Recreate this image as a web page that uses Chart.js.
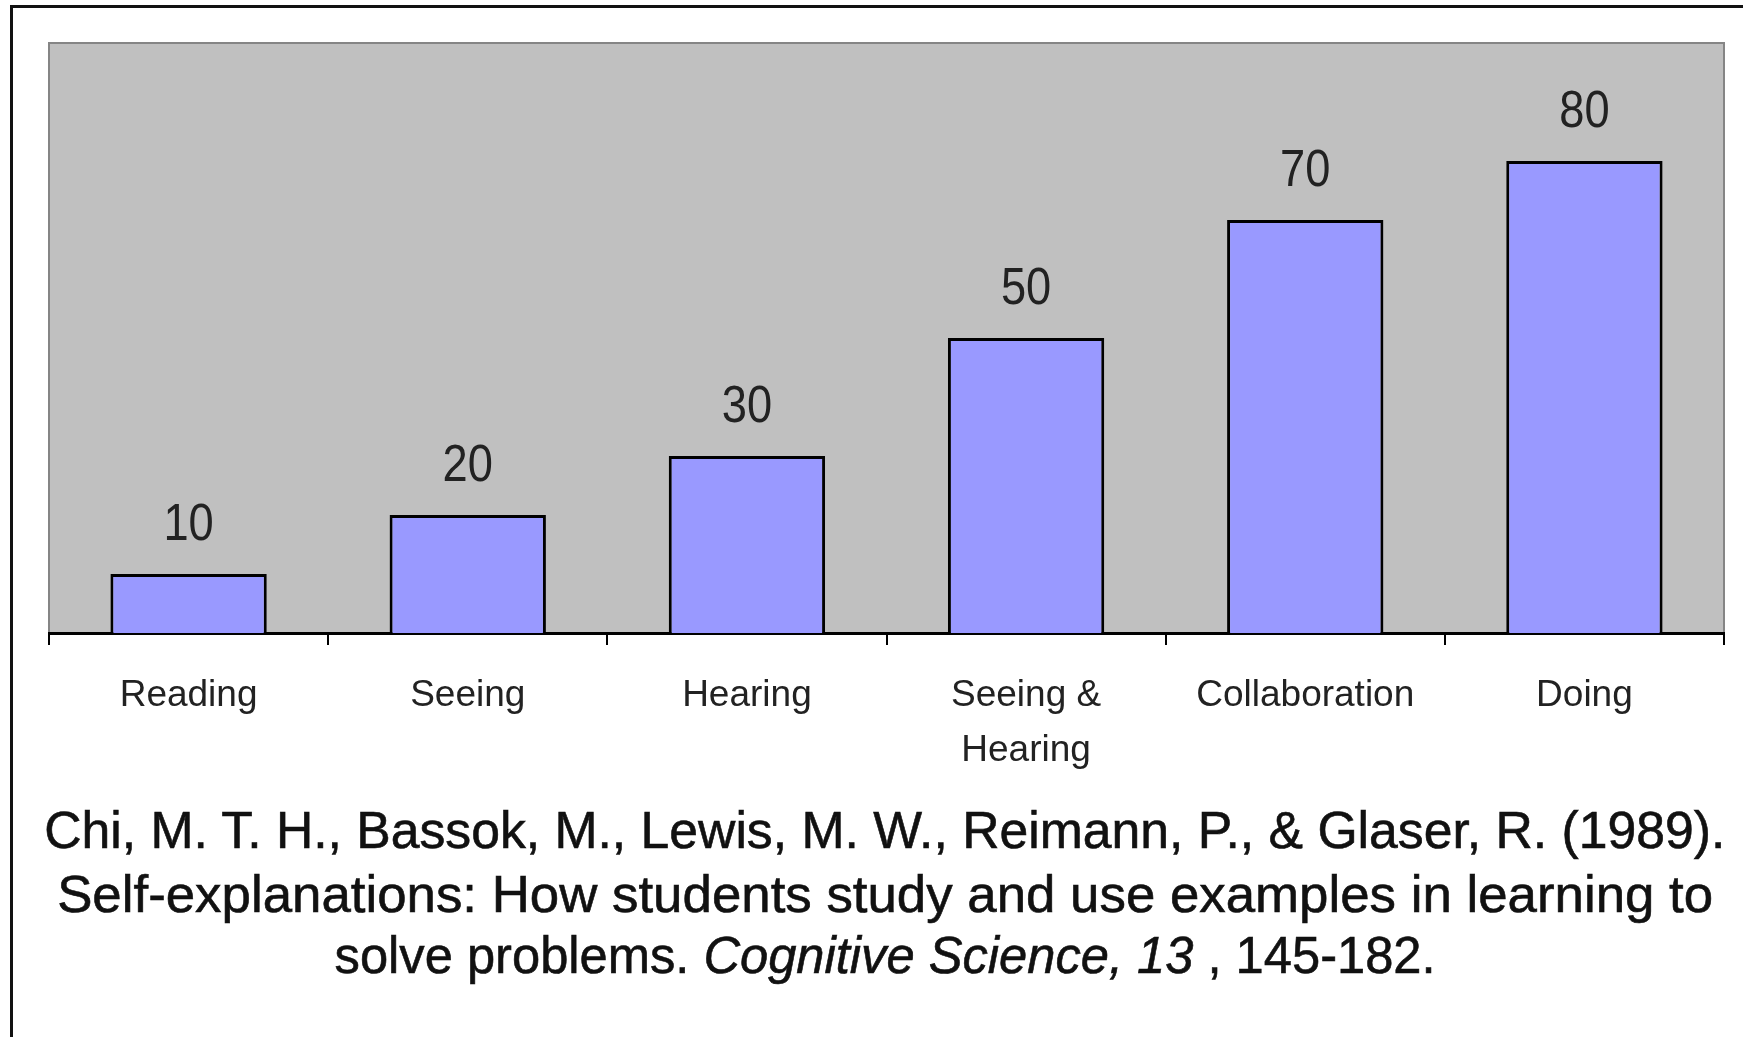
<!DOCTYPE html>
<html>
<head>
<meta charset="utf-8">
<script src="https://cdn.jsdelivr.net/npm/chart.js@4.4.1/dist/chart.umd.min.js"></script>
<style>
  html, body { margin: 0; padding: 0; background: #fff; overflow: hidden; }
  #wrap { position: relative; width: 1743px; height: 1037px; }
  #frame { position: absolute; left: 10px; top: 5px; width: 2000px; height: 2000px;
           border: 3px solid #111; pointer-events: none; }
  .cap { position: absolute; left: 0; width: 1770px; text-align: center;
         font-family: "Liberation Sans", Arial, sans-serif; font-size: 52px;
         line-height: 52px; color: #111; white-space: nowrap;
         -webkit-text-stroke: 0.6px #111; }
  .cap span { display: inline-block; transform-origin: center; }
</style>
</head>
<body>
<div id="wrap">
  <canvas id="chart" width="1743" height="1037"></canvas>
  <div id="frame"></div>
  <div class="cap" style="top:804px"><span data-w="1681">Chi, M. T. H., Bassok, M., Lewis, M. W., Reimann, P., &amp; Glaser, R. (1989).</span></div>
  <div class="cap" style="top:868px"><span data-w="1656">Self-explanations: How students study and use examples in learning to</span></div>
  <div class="cap" style="top:929px"><span data-w="1101">solve problems. <i>Cognitive Science, 13</i> , 145-182.</span></div>
</div>
<script>
// data
const categories = ['Reading', 'Seeing', 'Hearing', ['Seeing &', 'Hearing'], 'Collaboration', 'Doing'];
const values = [10, 20, 30, 50, 70, 80];

// squeeze caption lines to the width they take in the original
document.querySelectorAll('.cap span').forEach(function(s) {
    const w = s.getBoundingClientRect().width;
    s.style.transform = 'scaleX(' + (Number(s.dataset.w) / w) + ')';
});

// gray plot background with thin darker edge
const plotBg = {
    id: 'plotBg',
    beforeDraw(chart) {
        const a = chart.chartArea, ctx = chart.ctx;
        ctx.save();
        ctx.fillStyle = '#c0c0c0';
        ctx.fillRect(a.left, a.top, a.right - a.left, a.bottom - a.top);
        ctx.strokeStyle = '#858585';
        ctx.lineWidth = 2;
        ctx.beginPath();
        ctx.moveTo(a.left, a.bottom);
        ctx.lineTo(a.left, a.top);
        ctx.lineTo(a.right, a.top);
        ctx.lineTo(a.right, a.bottom);
        ctx.stroke();
        ctx.restore();
    }
};

// value labels above each bar
const valueLabels = {
    id: 'valueLabels',
    afterDatasetsDraw(chart) {
        const ctx = chart.ctx;
        const meta = chart.getDatasetMeta(0);
        ctx.save();
        ctx.fillStyle = '#222';
        ctx.font = '52px "Liberation Sans", Arial, sans-serif';
        ctx.textAlign = 'center';
        ctx.textBaseline = 'alphabetic';
        meta.data.forEach(function(bar, i) {
            ctx.save();
            ctx.translate(bar.x, bar.y - 34);
            ctx.scale(0.87, 1);
            ctx.fillText(String(values[i]), 0, 0);
            ctx.restore();
        });
        ctx.restore();
    }
};

const ctx = document.getElementById('chart').getContext('2d');
const chart = new Chart(ctx, {
    type: 'bar',
    data: {
        labels: categories,
        datasets: [{
            data: values,
            backgroundColor: '#9999ff',
            borderColor: '#000',
            borderWidth: 3,
            categoryPercentage: 1,
            barPercentage: 0.56
        }]
    },
    options: {
        responsive: false,
        animation: false,
        layout: { padding: { left: 49, right: 19, top: 43, bottom: 0 } },
        plugins: { legend: { display: false }, tooltip: { enabled: false } },
        scales: {
            x: {
                afterFit(scale) { scale.height = 404; },
                grid: { drawOnChartArea: false, color: '#000', lineWidth: 2, tickLength: 12 },
                border: { display: true, color: '#000', width: 3 },
                ticks: {
                    color: '#222',
                    padding: 23,
                    maxRotation: 0,
                    autoSkip: false,
                    font: { family: '"Liberation Sans", Arial, sans-serif', size: 37, lineHeight: 1.486 }
                }
            },
            y: {
                display: false,
                min: 0,
                max: 100
            }
        }
    },
    plugins: [plotBg, valueLabels]
});
</script>
</body>
</html>
